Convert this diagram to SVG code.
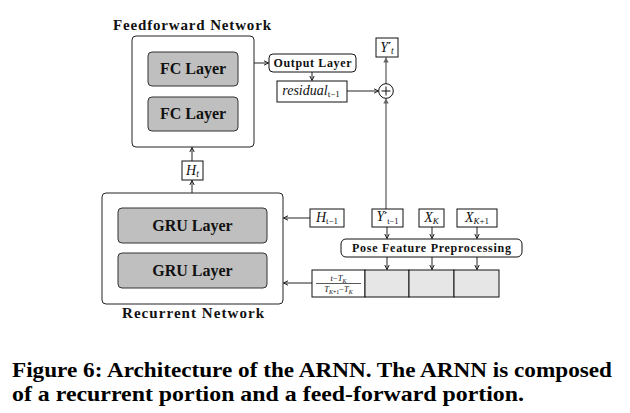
<svg xmlns="http://www.w3.org/2000/svg" width="630" height="413" viewBox="0 0 630 413">
<style>
.bg{fill:#fff}
.outer{fill:#fff;stroke:#222;stroke-width:1}
.layer{fill:#bfbfbf;stroke:#333;stroke-width:1}
.box{fill:#fff;stroke:#111;stroke-width:1}
.cell{fill:#e6e6e6;stroke:#111;stroke-width:1}
.lbl{font-family:"Liberation Serif","DejaVu Serif",serif;font-weight:bold;fill:#111;text-anchor:middle}
.math{font-family:"Liberation Serif","DejaVu Serif",serif;font-style:italic;fill:#111;text-anchor:middle}
.pr{font-family:"DejaVu Sans",sans-serif;font-style:normal;font-weight:bold}
.cap{font-family:"Liberation Serif","DejaVu Serif",serif;font-weight:bold;font-size:21px;fill:#000}
.c{fill:none;stroke:#222;stroke-width:1}
.g{fill:none;stroke:#808080;stroke-width:1.6}
</style>
<defs>
<marker id="ah" markerWidth="6" markerHeight="6" refX="5" refY="3" orient="auto" markerUnits="userSpaceOnUse">
<path d="M0.5,0.8 L5,3 L0.5,5.2" fill="none" stroke="#222" stroke-width="1"/>
</marker>
<marker id="ahg" markerWidth="7" markerHeight="7" refX="5.5" refY="3.5" orient="auto" markerUnits="userSpaceOnUse">
<path d="M0.5,0.8 L5.5,3.5 L0.5,6.2 Z" fill="#666" stroke="none"/>
</marker>
</defs>
<rect class="bg" x="0" y="0" width="630" height="413"/>

<g id="connectors">
<line class="c" x1="192" y1="161" x2="192" y2="147.5" marker-end="url(#ah)"/>
<line class="c" x1="192" y1="193" x2="192" y2="180.5" marker-end="url(#ah)"/>
<line class="c" x1="254" y1="63" x2="268.5" y2="63" marker-end="url(#ah)"/>
<line class="c" x1="312" y1="72" x2="312" y2="80.5" marker-end="url(#ah)"/>
<line class="c" x1="347" y1="91" x2="378.5" y2="91" marker-end="url(#ah)"/>
<line class="g" x1="386" y1="84" x2="386" y2="57.5" marker-end="url(#ahg)"/>
<line class="g" x1="386" y1="209" x2="386" y2="98.5" marker-end="url(#ahg)"/>
<line class="c" x1="310" y1="218" x2="283.5" y2="218" marker-end="url(#ah)"/>
<line class="c" x1="312" y1="283" x2="283.5" y2="283" marker-end="url(#ah)"/>
<line class="c" x1="387" y1="227" x2="387" y2="238.5" marker-end="url(#ah)"/>
<line class="c" x1="432" y1="227" x2="432" y2="238.5" marker-end="url(#ah)"/>
<line class="c" x1="477" y1="227" x2="477" y2="238.5" marker-end="url(#ah)"/>
<line class="c" x1="387" y1="257" x2="387" y2="269.5" marker-end="url(#ah)"/>
<line class="c" x1="432" y1="257" x2="432" y2="269.5" marker-end="url(#ah)"/>
<line class="c" x1="477" y1="257" x2="477" y2="269.5" marker-end="url(#ah)"/>
</g>

<g id="feedforward">
<text class="lbl" x="192" y="30" font-size="15" textLength="158" lengthAdjust="spacing">Feedforward Network</text>
<rect class="outer" x="132" y="36" width="122" height="111" rx="4"/>
</g>
<g id="fc1">
<rect class="layer" x="148" y="52" width="90" height="34" rx="4"/>
<text class="lbl" x="193" y="74" font-size="16">FC Layer</text>
</g>
<g id="fc2">
<rect class="layer" x="148" y="97" width="90" height="34" rx="4"/>
<text class="lbl" x="193" y="119" font-size="16">FC Layer</text>
</g>
<g id="ht">
<rect class="box" x="182" y="161" width="21" height="19"/>
<text class="math" x="192.5" y="175" font-size="14">H<tspan font-size="9.5" dy="2">t</tspan></text>
</g>
<g id="output">
<rect class="box" x="269" y="54" width="87" height="18" rx="4"/>
<text class="lbl" x="312.5" y="67" font-size="12" textLength="78" lengthAdjust="spacing">Output Layer</text>
</g>
<g id="residual">
<rect class="box" x="277" y="81" width="70" height="21"/>
<text class="math" x="311" y="95" font-size="14">residual<tspan font-size="9" dy="2" font-style="normal">t−1</tspan></text>
</g>
<g id="plus">
<circle cx="386" cy="91" r="7.3" fill="#fff" stroke="#111" stroke-width="1"/>
<line x1="381.5" y1="91" x2="390.5" y2="91" stroke="#111" stroke-width="1"/>
<line x1="386" y1="86.5" x2="386" y2="95.5" stroke="#111" stroke-width="1"/>
</g>
<g id="yt">
<rect class="box" x="376" y="38" width="22" height="19"/>
<text class="math" x="387" y="52" font-size="14">Y<tspan class="pr" font-size="11" dy="-2">′</tspan><tspan font-size="9.5" dy="4">t</tspan></text>
</g>

<g id="recurrent">
<rect class="outer" x="102" y="193" width="181" height="111" rx="4"/>
<text class="lbl" x="193" y="318" font-size="15" textLength="142" lengthAdjust="spacing">Recurrent Network</text>
</g>
<g id="gru1">
<rect class="layer" x="118" y="208" width="149" height="35" rx="4"/>
<text class="lbl" x="192.5" y="231" font-size="16">GRU Layer</text>
</g>
<g id="gru2">
<rect class="layer" x="118" y="253" width="149" height="35" rx="4"/>
<text class="lbl" x="192.5" y="276" font-size="16">GRU Layer</text>
</g>
<g id="ht1">
<rect class="box" x="310" y="209" width="34" height="18"/>
<text class="math" x="327" y="222" font-size="14">H<tspan font-size="9" dy="2" font-style="normal">t−1</tspan></text>
</g>
<g id="yt1">
<rect class="box" x="372" y="209" width="31" height="18"/>
<text class="math" x="387.5" y="221" font-size="14">Y<tspan class="pr" font-size="11" dy="-1">′</tspan><tspan font-size="8.5" dy="4" font-style="normal">t−1</tspan></text>
</g>
<g id="xk">
<rect class="box" x="419" y="209" width="25" height="18"/>
<text class="math" x="431.5" y="222" font-size="14">X<tspan font-size="9" dy="2">K</tspan></text>
</g>
<g id="xk1">
<rect class="box" x="457" y="209" width="40" height="18"/>
<text class="math" x="477" y="222" font-size="14">X<tspan font-size="9" dy="2">K<tspan font-style="normal">+1</tspan></tspan></text>
</g>
<g id="pose">
<rect class="box" x="341" y="239" width="181" height="18" rx="5"/>
<text class="lbl" x="431.5" y="252" font-size="12" textLength="159" lengthAdjust="spacing">Pose Feature Preprocessing</text>
</g>
<g id="cells">
<rect class="box" x="312" y="270" width="53" height="27"/>
<text class="math" x="338.5" y="281" font-size="8.5">t<tspan font-style="normal">−</tspan>T<tspan font-size="6" dy="1.5">K</tspan></text>
<line x1="316" y1="283.5" x2="361" y2="283.5" stroke="#111" stroke-width="0.7"/>
<text class="math" x="338.5" y="292" font-size="8.5">T<tspan font-size="6" dy="1.5">K<tspan font-style="normal">+1</tspan></tspan><tspan font-style="normal" dy="-1.5">−</tspan>T<tspan font-size="6" dy="1.5">K</tspan></text>
<rect class="cell" x="365" y="270" width="44" height="27"/>
<rect class="cell" x="409" y="270" width="45" height="27"/>
<rect class="cell" x="454" y="270" width="45" height="27"/>
</g>

<text class="cap" x="12" y="377" textLength="600" lengthAdjust="spacingAndGlyphs">Figure 6: Architecture of the ARNN. The ARNN is composed</text>
<text class="cap" x="12" y="401" textLength="512" lengthAdjust="spacingAndGlyphs">of a recurrent portion and a feed-forward portion.</text>
</svg>
